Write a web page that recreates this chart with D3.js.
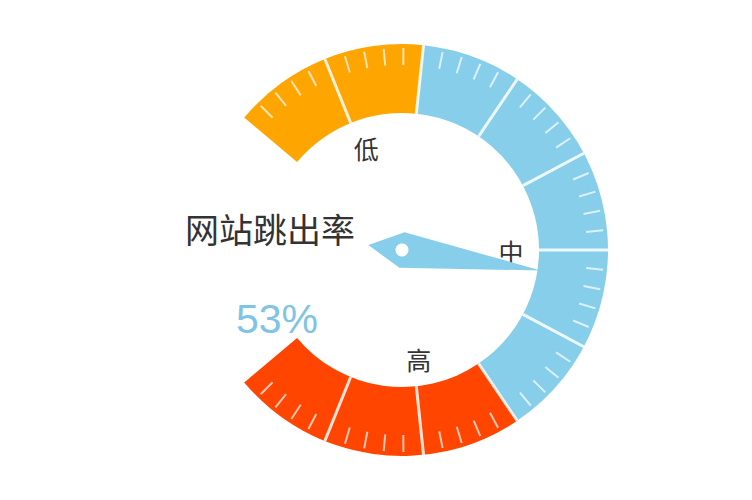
<!DOCTYPE html>
<html>
<head>
<meta charset="utf-8">
<script src="https://cdn.jsdelivr.net/npm/d3@7"></script>
<style>
  body { margin: 0; background: #fff; }
  text { font-family: "Noto Sans CJK SC", "Noto Sans", sans-serif; }
</style>
</head>
<body>
<script>
// data
const gaugeMin = 0;
const gaugeMax = 100;
const gaugeValue = 53;
const bandStops = [0, 20, 70, 100];
const bandColors = ['#ffa500', '#87ceeb', '#ff4500'];
const labelTexts = ['低', '中', '高'];
const labelValues = [11, 50, 79];
const titleText = '网站跳出率';
const valueText = gaugeValue + '%';

// config
const config = {
  width: 752,
  height: 500,
  cx: 402,
  cy: 250,
  outerRadius: 206,
  innerRadius: 137,
  startAngle: -50, // degrees, d3 convention (0 = 12 o'clock, clockwise)
  endAngle: 230,
  splitNumber: 10,
  tickSplit: 5,
  tickLength: 17,
  tickInset: 4,
  labelRadius: 109,
  pointerLength: 140,
  pointerWidth: 18,
  pointerTail: 34,
};

const toRad = (deg) => deg * Math.PI / 180;

// value -> angle
const angle = d3.scaleLinear()
  .domain([gaugeMin, gaugeMax])
  .range([toRad(config.startAngle), toRad(config.endAngle)]);

// point on the circle at radius r for value v
function polar(v, r) {
  const a = angle(v);
  return [r * Math.sin(a), -r * Math.cos(a)];
}

const svg = d3.select('body')
  .append('svg')
  .attr('width', config.width)
  .attr('height', config.height);

const g = svg.append('g')
  .attr('transform', `translate(${config.cx},${config.cy})`);

// colour bands
const arc = d3.arc()
  .innerRadius(config.innerRadius)
  .outerRadius(config.outerRadius);

g.selectAll('.band')
  .data(d3.pairs(bandStops))
  .enter().append('path')
  .attr('class', 'band')
  .attr('d', (d) => arc({ startAngle: angle(d[0]), endAngle: angle(d[1]) }))
  .style('fill', (d, i) => bandColors[i]);

// minor ticks, 4 between every pair of split lines
const majorStep = (gaugeMax - gaugeMin) / config.splitNumber;
const minorStep = majorStep / config.tickSplit;
const minorTicks = d3.range(gaugeMin, gaugeMax + minorStep / 2, minorStep)
  .filter((v) => Math.abs(((v - gaugeMin) / majorStep) - Math.round((v - gaugeMin) / majorStep)) > 1e-6);

g.selectAll('.tick')
  .data(minorTicks)
  .enter().append('line')
  .attr('class', 'tick')
  .attr('x1', (d) => polar(d, config.outerRadius - config.tickInset - config.tickLength)[0])
  .attr('y1', (d) => polar(d, config.outerRadius - config.tickInset - config.tickLength)[1])
  .attr('x2', (d) => polar(d, config.outerRadius - config.tickInset)[0])
  .attr('y2', (d) => polar(d, config.outerRadius - config.tickInset)[1])
  .style('stroke', 'rgba(255,255,255,0.7)')
  .style('stroke-width', 2);

// split lines across the whole ring (skip the two ends)
const splits = angle.ticks(config.splitNumber).filter((v) => v > gaugeMin && v < gaugeMax);

g.selectAll('.split')
  .data(splits)
  .enter().append('line')
  .attr('class', 'split')
  .attr('x1', (d) => polar(d, config.innerRadius)[0])
  .attr('y1', (d) => polar(d, config.innerRadius)[1])
  .attr('x2', (d) => polar(d, config.outerRadius)[0])
  .attr('y2', (d) => polar(d, config.outerRadius)[1])
  .style('stroke', 'rgba(255,255,255,0.85)')
  .style('stroke-width', 3);

// band labels
g.selectAll('.bandLabel')
  .data(labelValues)
  .enter().append('text')
  .attr('class', 'bandLabel')
  .attr('x', (d) => polar(d, config.labelRadius)[0])
  .attr('y', (d) => polar(d, config.labelRadius)[1])
  .attr('dy', 1)
  .attr('text-anchor', 'middle')
  .attr('dominant-baseline', 'central')
  .style('font-size', '25px')
  .style('fill', '#333')
  .text((d, i) => labelTexts[i]);

// pointer colour follows the band it sits in
const bandIndex = d3.bisectRight(bandStops, gaugeValue) - 1;
const pointerColor = bandColors[Math.min(bandIndex, bandColors.length - 1)];

const pointerDeg = angle(gaugeValue) * 180 / Math.PI;
const pointer = g.append('g')
  .attr('transform', `rotate(${pointerDeg})`);

pointer.append('path')
  .attr('d', `M 0 ${-config.pointerLength} L ${config.pointerWidth} 0 L 0 ${config.pointerTail} L ${-config.pointerWidth} 0 Z`)
  .style('fill', pointerColor);

pointer.append('circle')
  .attr('r', 6.5)
  .style('fill', '#fff');

// title and value
svg.append('text')
  .attr('x', 270)
  .attr('y', 228)
  .attr('text-anchor', 'middle')
  .attr('dominant-baseline', 'central')
  .style('font-size', '34px')
  .style('fill', '#333')
  .text(titleText);

svg.append('text')
  .attr('x', 277)
  .attr('y', 333)
  .attr('text-anchor', 'middle')
  .style('font-family', '"Liberation Sans", Arial, sans-serif')
  .style('font-size', '41px')
  .style('fill', '#80c4e4')
  .text(valueText);
</script>
</body>
</html>
